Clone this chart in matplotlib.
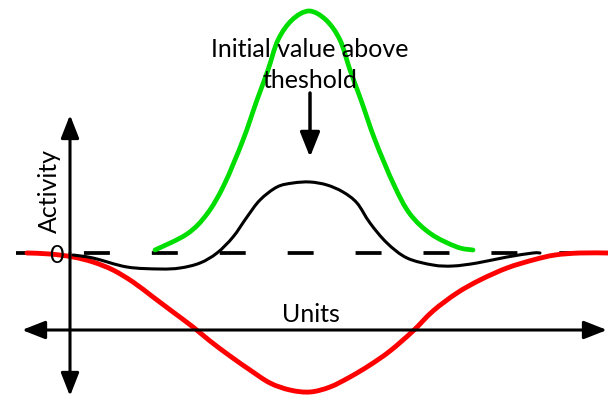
import matplotlib
matplotlib.use('Agg')
import matplotlib.pyplot as plt
import numpy as np
from matplotlib.path import Path
from matplotlib.patches import PathPatch

plt.rcParams['font.family'] = ['Lato', 'DejaVu Sans']
plt.rcParams['lines.scale_dashes'] = False

# units along the layer (x) and activity relative to threshold (y)
green_x = [155, 187, 207, 224, 243, 257, 268, 278, 292, 309, 326, 340, 350, 361, 375, 394, 410, 431, 457, 473]
green_y = [3, 19, 39, 68, 113, 153, 183, 213, 233, 242, 233, 213, 183, 153, 113, 68, 39, 19, 6, 3]

black_x = [73, 93, 127, 160, 180, 200, 217, 233, 247, 260, 277, 293, 310, 327, 343, 357, 370, 387, 407, 433, 453, 477, 507, 533, 540]
black_y = [-2, -5, -14, -16, -15, -10, 0, 16, 36, 53, 66, 70, 71, 68, 61, 50, 30, 10, -5, -12, -13, -10, -4, 0, 0]

red_x = [27, 50, 73, 93, 113, 133, 153, 173, 193, 210, 230, 250, 270, 290, 310, 330, 350, 370, 390, 413, 433, 457, 480, 507, 533, 555, 580, 608]
red_y = [0, -1, -4, -9, -17, -29, -44, -59, -74, -88, -103, -117, -130, -137, -139, -134, -124, -112, -98, -78, -58, -40, -27, -15, -7, -2, 0, 0]

zero_level = 0


def smooth_path(xs, ys):
    # Catmull-Rom through the points, drawn as cubic bezier segments
    p = np.column_stack([xs, ys]).astype(float)
    p = np.vstack([p[0], p, p[-1]])
    verts = [p[1]]
    codes = [Path.MOVETO]
    for i in range(1, len(p) - 2):
        c1 = p[i] + (p[i + 1] - p[i - 1]) / 6
        c2 = p[i + 1] - (p[i + 2] - p[i]) / 6
        verts += [c1, c2, p[i + 1]]
        codes += [Path.CURVE4] * 3
    return Path(verts, codes)


def draw_curve(ax, xs, ys, **kw):
    ax.add_patch(PathPatch(smooth_path(xs, ys), fill=False, capstyle='round',
                           joinstyle='round', **kw))


fig = plt.figure(figsize=(6.08, 3.96), dpi=100)
ax = fig.add_axes([0, 0, 1, 1])
ax.set_xlim(0, 608)
ax.set_ylim(-143, 253)
ax.axis('off')

# threshold (dashed)
ax.plot([16, 608], [zero_level, zero_level], color='black', lw=2.7,
        linestyle=(0, (18.7, 30.2)), solid_capstyle='butt', zorder=1)

draw_curve(ax, red_x, red_y, edgecolor='#ff0000', lw=3.5, zorder=2)
draw_curve(ax, green_x, green_y, edgecolor='#00dd00', lw=3.4, zorder=2)
draw_curve(ax, black_x, black_y, edgecolor='black', lw=2.2, zorder=3)

# axes arrows
arr = dict(arrowstyle='-|>,head_length=1.4,head_width=0.55', color='black', lw=2.2,
           shrinkA=0, shrinkB=0)
ax.annotate('', xy=(70, 138), xytext=(70, 0), arrowprops=arr)
ax.annotate('', xy=(70, -143), xytext=(70, 0), arrowprops=arr)
ax.annotate('', xy=(607, -77), xytext=(70, -77), arrowprops=arr)
ax.annotate('', xy=(22, -77), xytext=(70, -77), arrowprops=arr)

ax.text(56, -10, '0', fontsize=18, ha='center', va='baseline')
ax.text(49, 62, 'Activity', fontsize=18, rotation=90, ha='center', va='center')
ax.text(311, -69, 'Units', fontsize=18, ha='center', va='baseline')
ax.text(310, 196, 'Initial value above', fontsize=18, ha='center', va='baseline')
ax.text(310, 165, 'theshold', fontsize=18, ha='center', va='baseline')

# arrow from label to the black bump
ax.annotate('', xy=(310, 96), xytext=(310, 160),
            arrowprops=dict(arrowstyle='-|>,head_length=1.5,head_width=0.6',
                            color='black', lw=2.5, shrinkA=0, shrinkB=0))

fig.savefig('out.png', dpi=100)
